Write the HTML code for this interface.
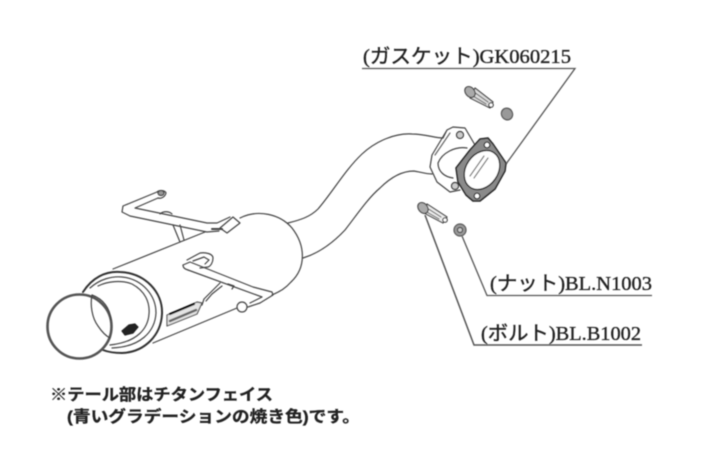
<!DOCTYPE html>
<html><head><meta charset="utf-8">
<style>html,body{margin:0;padding:0;background:#fff;width:702px;height:468px;overflow:hidden}svg{display:block}</style>
</head><body>
<svg width="702" height="468" viewBox="0 0 702 468" xmlns="http://www.w3.org/2000/svg">
<defs><filter id="b" x="-5%" y="-5%" width="110%" height="110%"><feGaussianBlur stdDeviation="0.5"/></filter></defs>
<g filter="url(#b)" fill="none" stroke="#444" stroke-width="1.2" stroke-linecap="round" stroke-linejoin="round">
<!-- pipe -->
<path d="M288 223C300 220 310 217 318 209C332 193 345 170 362 154C376 141 395 133 412 134C425 134 435 138 443 138"/>
<path d="M303 258C316 254 330 246 345 230C356 216 368 198 380 188C390 178 402 171 414 171C420 172 426 174 432 174"/>
<!-- muffler -->
<path d="M113 269L205 232"/><path d="M153 343L237 308"/>
<path d="M240 218C258 209 280 214 292 228C306 246 306 268 291 282C284 290 278 292 272 295"/>
<!-- rear end rings -->
<path d="M83 292C92 278 105 271 120 272C145 273 163 292 162 314C161 335 145 352 122 353C115 353 108 352 103 350" stroke="#333" stroke-width="2"/>
<path d="M90 288C100 279 112 276 122 277C142 279 156 295 156 313C155 332 140 347 112 348"/>
<path d="M98 286C108 281 122 280 132 284C145 291 150 302 149 314C148 328 138 342 110 345"/>
<!-- tail -->
<circle cx="79.500" cy="326.500" r="32" stroke="#555" stroke-width="2.600"/>
<path d="M92 295C90 305 92 318 98 326C102 332 106 336 110 338"/>
<path d="M92 295C103 299 110 308 111 320"/>
<!-- logo -->
<path d="M122 331l7-6 6-1 3 3-5 6-8 2z" fill="#222" stroke="#222"/>
<path d="M167 315L197 302L202 303L197 314L167 326Z" fill="#e4e4e4" stroke="#555"/>
<path d="M170 314L194 304" stroke="#111" stroke-width="2.200"/>
<path d="M170 321L196 310" stroke="#666" stroke-width="2.500"/>
<!-- upper bracket -->
<path d="M157 192L123 206L122 212L130 216L207 232L219 231"/>
<path d="M158 198L135 208L207 223L217 223L230 217"/>
<path d="M157 192C159 190 165 190 166 193C165 197 161 199 158 198"/>
<ellipse cx="161" cy="193" rx="3" ry="2.500" fill="#999"/>
<path d="M220 228L233 217L240 223L227 233Z"/>
<path d="M173 225L180 242M180 225L184 240"/>
<path d="M160 214C163 211 169 211 172 214"/>
<path d="M212 229L222 229" stroke-width="2"/>
<!-- lower bracket -->
<path d="M183 265L190 262L253 287L272 292L273 295L260 303L248 307"/>
<path d="M188 270L262 297L250 303"/>
<path d="M183 265C183 268 185 269 188 270"/>
<path d="M187 260L200 253C206 252 213 254 213 258C213 262 211 266 208 267L200 268"/>
<path d="M193 261L204 257L209 260L205 264"/>
<circle cx="242" cy="307" r="5"/>
<path d="M220 283L204 299L202 305M222 286L212 294L206 301"/>
<path d="M228 284L234 286L232 289"/>
<!-- flange -->
<path d="M443 138L447 130L453 127L465 128L475 145M432 155L447 130M432 155L430 167L437 182L450 192L460 190"/>
<path d="M438 163C442 153 455 146 467 148M438 163C438 172 445 177 453 178" />
<path d="M435 155L450 133" stroke="#666"/>
<circle cx="460" cy="135" r="3.500" stroke="#333" fill="#ccc"/>
<circle cx="455" cy="186" r="3.500" stroke="#333" fill="#ccc"/>
<!-- gasket -->
<path d="M480 139L488 138L493 144L506 163L505 171L495 189L480 201L473 201L466 195L458 182L456 168L470 150Z" fill="#8a8a8a" stroke="#222" stroke-width="1.500"/>
<ellipse cx="482" cy="170" rx="16" ry="21" transform="rotate(35 482 170)" fill="#fff" stroke="#222" stroke-width="1.400"/>
<circle cx="487" cy="145" r="2.800" fill="#fff" stroke="#222"/>
<circle cx="477" cy="196" r="2.800" fill="#fff" stroke="#222"/>
<path d="M470 176L484 156M474 178L488 158" stroke="#777"/>
<!-- upper bolt and nut -->
<path d="M475 88L493 102L490 108L470 98Z" fill="#ddd"/>
<path d="M474 92L488 102M473 96L486 104" stroke="#777"/>
<ellipse cx="470" cy="92" rx="4.500" ry="6" transform="rotate(-40 470 92)" fill="#aaa" stroke="#444"/>
<circle cx="491" cy="105" r="2.200" fill="#fff" stroke="#333"/>
<ellipse cx="507" cy="114" rx="5.500" ry="6" transform="rotate(-30 507 114)" fill="#999" stroke="#555"/>
<!-- lower bolt and nut -->
<path d="M427 204L447 217L443 223L424 213Z" fill="#eee"/>
<path d="M427 208L441 217M425 211L439 219" stroke="#777"/>
<ellipse cx="423" cy="208" rx="4.500" ry="6" transform="rotate(-40 423 208)" fill="#aaa" stroke="#444"/>
<circle cx="445" cy="220" r="2.200" fill="#fff" stroke="#333"/>
<ellipse cx="460" cy="230" rx="6" ry="6" fill="#999" stroke="#555"/>
<circle cx="460" cy="230" r="2.500" fill="#ccc"/>
</g>
<g filter="url(#b)" fill="none" stroke="#555" stroke-width="1.300">
<path d="M362 68.500H575L506 164" />
<path d="M462 236L487 295.500H652" />
<path d="M425 215L474 345H642" stroke-width="1.500"/>
</g>
<g filter="url(#b)" fill="#222" stroke="#222" stroke-width="0.350" font-family="'Liberation Serif','Noto Sans CJK JP',serif" font-size="20">
<text x="363" y="63" textLength="208" lengthAdjust="spacingAndGlyphs">(ガスケット)GK060215</text>
<text x="490" y="290" textLength="162" lengthAdjust="spacingAndGlyphs">(ナット)BL.N1003</text>
<text x="481" y="340" textLength="160" lengthAdjust="spacingAndGlyphs">(ボルト)BL.B1002</text>
</g>
<g filter="url(#b)" fill="#222" stroke="#222" stroke-width="0.300" font-family="'Liberation Sans','Noto Sans CJK JP',sans-serif" font-weight="700" font-size="16">
<text x="50" y="400" textLength="223" lengthAdjust="spacingAndGlyphs">※テール部はチタンフェイス</text>
<text x="67" y="422" textLength="293" lengthAdjust="spacingAndGlyphs">(青いグラデーションの焼き色)です。</text>
</g>
</svg>
</body></html>
